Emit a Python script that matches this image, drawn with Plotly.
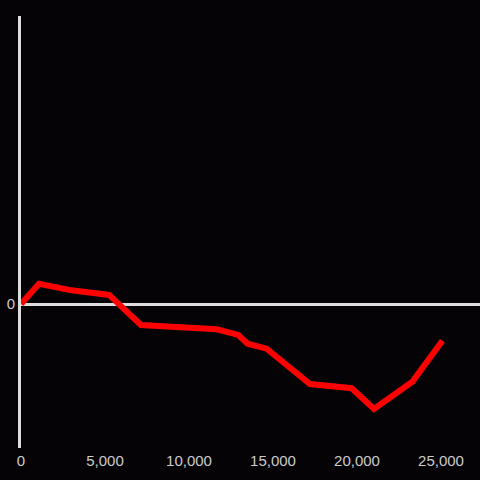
import plotly.graph_objects as go

# values
x_vals = [0, 1070, 3000, 5240, 7140, 8870, 11550, 11650, 12930, 13490, 14620,
          17200, 19680, 21010, 23290, 25080]
y_vals = [0.0, 0.14, 0.095, 0.063, -0.146, -0.16, -0.174, -0.176, -0.215, -0.276, -0.31,
          -0.556, -0.585, -0.729, -0.54, -0.255]
x_ticks = [0, 5000, 10000, 15000, 20000, 25000]
y_ticks = [0]

fig = go.Figure()
fig.add_trace(go.Scatter(x=x_vals, y=y_vals, mode="lines",
                         line=dict(color="#ff0000", width=6), hoverinfo="skip"))

fig.update_layout(
    width=480, height=480,
    paper_bgcolor="#050305", plot_bgcolor="#050305",
    margin=dict(l=21, r=0, t=16, b=32),
    showlegend=False,
    font=dict(family="Liberation Sans, Arial, sans-serif", size=15, color="#cccccc"),
)
fig.update_xaxes(range=[0, 27320], tickvals=x_ticks, tickformat=",",
                 showgrid=False, zeroline=False, showline=False, ticks="",
                 ticklabelstandoff=2)
fig.update_yaxes(range=[-1, 2], tickvals=y_ticks, showgrid=False,
                 zeroline=True, zerolinecolor="#dddddd", zerolinewidth=3,
                 showline=True, linecolor="#dddddd", linewidth=3, ticks="")

# drop the page's default body margin so the chart sits at the top-left corner
fig.write_html("out.html", config={"displayModeBar": False},
               post_script="document.body.style.margin='0';"
                           "document.body.style.background='#050305';")
